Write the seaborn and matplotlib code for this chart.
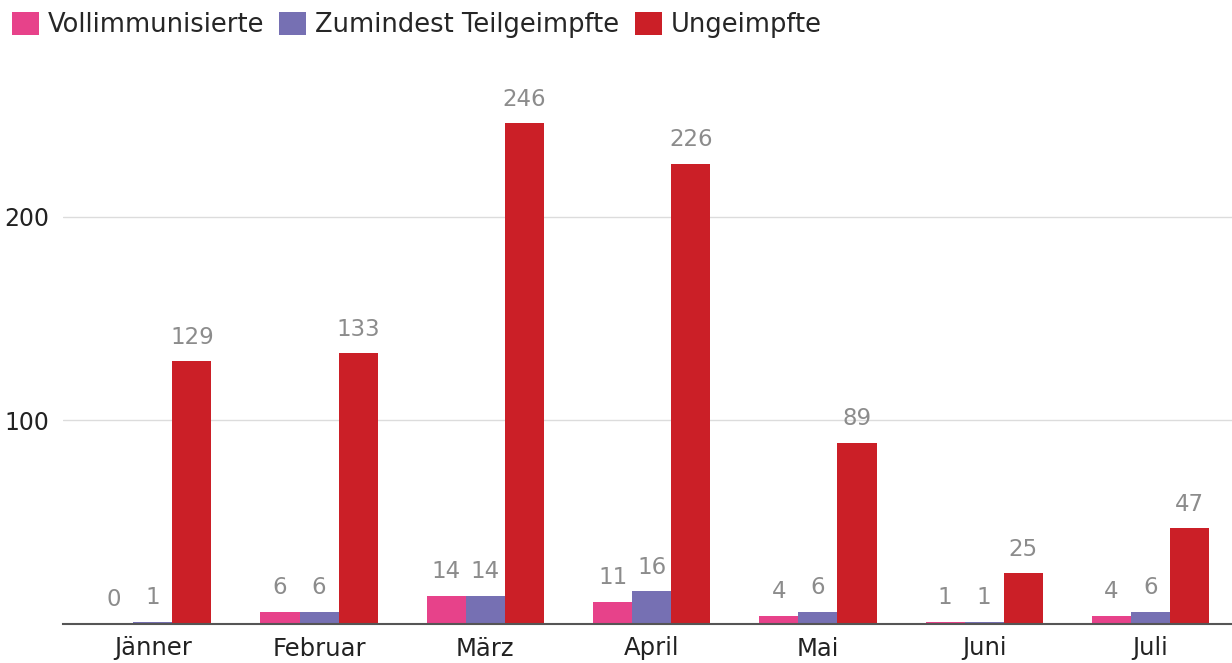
import matplotlib
matplotlib.use("Agg")
import matplotlib.pyplot as plt
import pandas as pd
import seaborn as sns

months = ["Jänner", "Februar", "März", "April", "Mai", "Juni", "Juli"]
series = ["Vollimmunisierte", "Zumindest Teilgeimpfte", "Ungeimpfte"]
vollimmunisiert = [0, 6, 14, 11, 4, 1, 4]
teilgeimpft = [1, 6, 14, 16, 6, 1, 6]
ungeimpft = [129, 133, 246, 226, 89, 25, 47]
colors = ["#e7428a", "#7670b3", "#cb1f27"]

df = pd.DataFrame({
    "Monat": months * 3,
    "Status": [s for s in series for _ in months],
    "Anzahl": vollimmunisiert + teilgeimpft + ungeimpft,
})

sns.set_style("white")
plt.rcParams["font.family"] = ["DejaVu Sans"]

fig = plt.figure(figsize=(12.32, 6.63), dpi=100)
ax = fig.add_axes([63 / 1232, 39 / 663, 1 - 63 / 1232, 570 / 663])

sns.barplot(
    data=df, x="Monat", y="Anzahl", hue="Status",
    order=months, hue_order=series, palette=colors,
    width=0.705, gap=0, saturation=1, errorbar=None,
    linewidth=0, legend=True, ax=ax,
)

for cont in ax.containers:
    ax.bar_label(cont, padding=9, color="#8c8c8c", fontsize=16.5)

ax.set_xlim(-0.54, 6.49)
ax.set_ylim(0, 280)
ax.set_yticks([100, 200])
ax.yaxis.grid(True, color="#dcdcdc", linewidth=1)
ax.set_axisbelow(True)
ax.set_xlabel("")
ax.set_ylabel("")
for side in ["top", "right", "left"]:
    ax.spines[side].set_visible(False)
ax.spines["bottom"].set_color("#555555")
ax.spines["bottom"].set_linewidth(1.5)
ax.tick_params(axis="both", length=0, colors="#222222")
ax.tick_params(axis="x", pad=9, labelsize=17.5)
ax.tick_params(axis="y", pad=10, labelsize=17)

handles, labels = ax.get_legend_handles_labels()
ax.get_legend().remove()
fig.legend(
    handles, labels, loc="upper left", bbox_to_anchor=(0.0, 1.0),
    ncol=3, frameon=False, fontsize=18.5,
    handlelength=1.05, handleheight=1.05, handletextpad=0.35,
    columnspacing=0.6, borderaxespad=0.05,
)

fig.savefig("out.png", dpi=100)
